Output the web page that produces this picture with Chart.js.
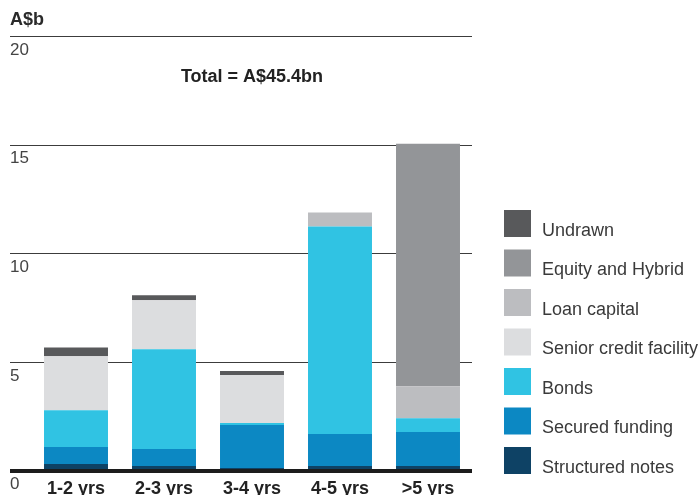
<!DOCTYPE html>
<html>
<head>
<meta charset="utf-8">
<script src="https://cdn.jsdelivr.net/npm/chart.js@4/dist/chart.umd.min.js"></script>
<style>
  html, body { margin: 0; padding: 0; background: #ffffff; }
  #wrap { width: 698px; height: 495px; position: relative; }
</style>
</head>
<body>
<div id="wrap"><canvas id="chart"></canvas></div>
<script>
// Debt maturity profile, A$ billions
const categories = ['1-2 yrs', '2-3 yrs', '3-4 yrs', '4-5 yrs', '>5 yrs'];
const yTicks = [0, 5, 10, 15, 20];

const structuredNotes = [0.32, 0.23, 0.14, 0.23, 0.23];
const securedFunding  = [0.78, 0.78, 1.98, 1.47, 1.56];
const bonds           = [1.70, 4.60, 0.09, 9.56, 0.64];
const seniorCredit    = [2.48, 2.25, 2.21, 0, 0];
const loanCapital     = [0, 0, 0, 0.64, 1.47];
const equityHybrid    = [0, 0, 0, 0, 11.17];
const undrawn         = [0.41, 0.23, 0.18, 0, 0];

const totalLabel = 'Total = A$45.4bn';
const unitLabel = 'A$b';

const FONT = "'Liberation Sans', Arial, Helvetica, sans-serif";

// stacked from the bottom up
const datasets = [
  { label: 'Structured notes',       data: structuredNotes, backgroundColor: '#0e4265' },
  { label: 'Secured funding',        data: securedFunding,  backgroundColor: '#0c88c3' },
  { label: 'Bonds',                  data: bonds,           backgroundColor: '#30c3e3' },
  { label: 'Senior credit facility', data: seniorCredit,    backgroundColor: '#dcdddf' },
  { label: 'Loan capital',           data: loanCapital,     backgroundColor: '#bcbdc0' },
  { label: 'Equity and Hybrid',      data: equityHybrid,    backgroundColor: '#939598' },
  { label: 'Undrawn',                data: undrawn,         backgroundColor: '#58595b' }
];

// Total annotation and the square-swatch key on the right
const annotations = {
  id: 'annotations',
  afterDraw(chart) {
    const { ctx, chartArea } = chart;
    ctx.save();
    ctx.fillStyle = '#222222';
    ctx.font = `bold 18px ${FONT}`;
    ctx.textAlign = 'center';
    ctx.textBaseline = 'middle';
    ctx.fillText(totalLabel, (chartArea.left + chartArea.right) / 2, chartArea.top + 40);

    const box = 27, step = 39.5;
    const items = chart.data.datasets.slice().reverse();
    const x = chartArea.right + 32;
    const lastBottom = chartArea.bottom + 3;
    const firstTop = lastBottom - box - step * (items.length - 1);
    ctx.font = `18px ${FONT}`;
    ctx.textAlign = 'left';
    ctx.textBaseline = 'alphabetic';
    items.forEach((ds, i) => {
      const top = firstTop + i * step;
      ctx.fillStyle = ds.backgroundColor;
      ctx.fillRect(x, top, box, box);
      ctx.fillStyle = '#3a3a3a';
      ctx.fillText(ds.label, x + 38, top + box - 1.5);
    });
    ctx.restore();
  }
};

new Chart(document.getElementById('chart'), {
  type: 'bar',
  data: { labels: categories, datasets },
  options: {
    responsive: true,
    maintainAspectRatio: false,
    animation: false,
    layout: { padding: { left: 10, right: 226, top: 0, bottom: 0 } },
    datasets: { bar: { barPercentage: 0.727, categoryPercentage: 1.0 } },
    plugins: {
      legend: { display: false },
      tooltip: { enabled: false },
      title: {
        display: true,
        text: unitLabel,
        align: 'start',
        color: '#2a2a2a',
        font: { family: FONT, size: 18, weight: 'bold', lineHeight: 1.2 },
        padding: { top: 9, bottom: 6 }
      }
    },
    scales: {
      x: {
        stacked: true,
        offset: true,
        grid: { display: false, drawTicks: false },
        border: { display: false },
        ticks: {
          color: '#222222',
          padding: 7,
          font: { family: FONT, size: 18, weight: 'bold', lineHeight: 1.2 }
        },
        afterFit(scale) { scale.height = 24; }
      },
      y: {
        stacked: true,
        min: 0,
        max: 20,
        afterBuildTicks(scale) { scale.ticks = yTicks.map(v => ({ value: v })); },
        border: { display: false },
        grid: {
          drawTicks: true,
          tickLength: 22,
          color: ctx => (ctx.tick && ctx.tick.value === 0) ? '#1c1c1c' : '#3c3c3c',
          lineWidth: ctx => (ctx.tick && ctx.tick.value === 0) ? 4 : 1
        },
        ticks: {
          crossAlign: 'far',
          padding: 0,
          labelOffset: 13.5,
          color: '#444444',
          font: { family: FONT, size: 17 }
        },
        afterFit(scale) { scale.width = 22; }
      }
    }
  },
  plugins: [annotations]
});
</script>
</body>
</html>
